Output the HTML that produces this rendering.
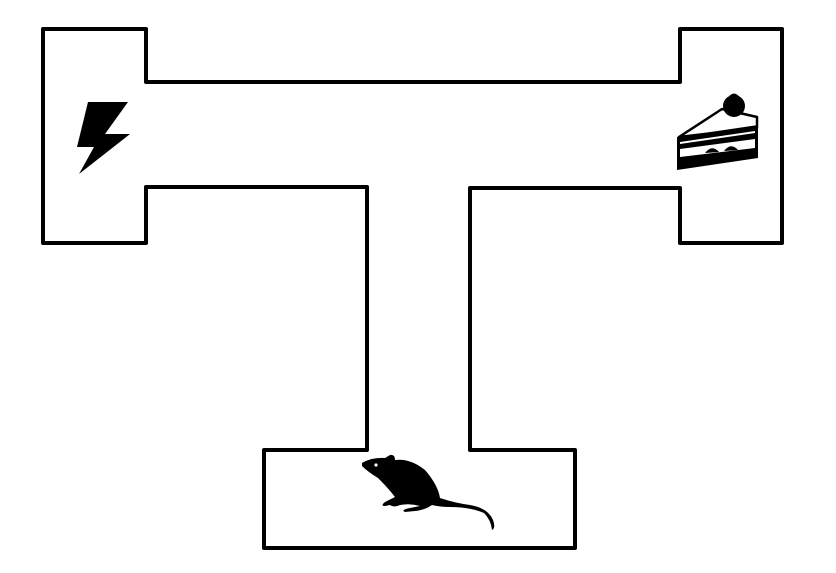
<!DOCTYPE html>
<html><head><style>html,body{margin:0;padding:0;background:#fff;}svg{display:block}</style></head>
<body>
<svg width="836" height="573" viewBox="0 0 836 573" xmlns="http://www.w3.org/2000/svg">
<path d="M43,29 H146 V82 H680 V29 H782 V243 H680 V188 H470 V450 H575 V548 H264 V450 H367 V187 H146 V243 H43 Z" fill="none" stroke="#000" stroke-width="4" stroke-linejoin="round"/>
<polygon points="88,102 128,102 105,134 130,134 79,174 94,147 77,147" fill="#000"/>
<!-- cake -->
<g>
<path d="M679,137 L722,109 L757,117 L757,128 Z" fill="#fff" stroke="#000" stroke-width="2.5" stroke-linejoin="round"/>
<circle cx="734" cy="106" r="11" fill="#000"/>
<path d="M727,99 Q734,88 741,99 Z" fill="#000"/>
<path d="M677,137 L758,125 L758,158 L677,170 Z" fill="#000"/>
<path d="M680,142 L755,131 L755,133 L680,144 Z" fill="#fff"/>
<path d="M680,149 L755,139 L755,148 L680,157 Z" fill="#fff"/>
<path d="M705,153 Q712,144 719,152 Z" fill="#000"/>
<path d="M724,151 Q731,142 738,150 Z" fill="#000"/>
</g>
<!-- mouse -->
<g fill="#000">
<path d="M362,463 Q372,457 385,458 L390,455 Q395,454 395,460 Q410,458 425,470 Q438,485 440,498 Q455,503 470,505 Q488,508 493,520 Q496,528 492,530 Q491,520 484,513 Q470,507 450,507 Q440,507 432,505 Q425,510 415,511 L405,512 Q400,510 410,508 L420,506 Q410,503 400,505 Q394,508 390,505 L385,506 Q380,506 385,502 L395,497 Q388,488 378,478 Q368,472 362,466 Z"/>
</g>
<circle cx="376" cy="465" r="1.6" fill="#fff"/>
</svg>
</body></html>
